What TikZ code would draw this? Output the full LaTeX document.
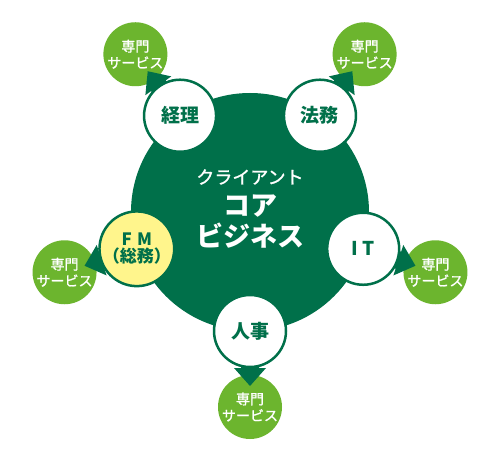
\documentclass[tikz,border=0pt]{standalone}
\usepackage{fontspec}
\newfontfamily\jp{Noto Sans CJK JP}
\newfontfamily\jpm{Noto Sans CJK JP}[UprightFeatures={FakeBold=1.2}]
\usetikzlibrary{calc}
\definecolor{dg}{RGB}{0,112,74}
\definecolor{lg}{RGB}{108,181,46}
\definecolor{yl}{RGB}{255,245,140}
\newcommand\blockarr[2]{%
  \coordinate (#1hb) at ($(#1)!37pt!(#2)$);
  \coordinate (#1tip) at ($(#1)!55pt!(#2)$);
  \fill[dg] ($(#1)!9pt!90:(#2)$) -- ($(#1hb)!9pt!90:(#2)$) -- ($(#1hb)!16pt!90:(#2)$)
    -- (#1tip) -- ($(#1hb)!16pt!-90:(#2)$) -- ($(#1hb)!9pt!-90:(#2)$)
    -- ($(#1)!9pt!-90:(#2)$) -- cycle;}
\begin{document}
\begin{tikzpicture}[x=1pt,y=1pt,
  sat/.style={circle,fill=lg,minimum size=64pt,inner sep=0pt,text=white,
    font=\jpm\fontsize{14}{16.5}\selectfont,align=center},
  func/.style={circle,draw=dg,line width=2.5pt,fill=white,minimum size=72pt,inner sep=0pt,
    text=dg,font=\jp\bfseries\fontsize{19}{22}\selectfont,align=center},
  coretext/.style={text=white,inner sep=0pt}]
\useasboundingbox (0,0) rectangle (500,450);
\fill[white] (0,0) rectangle (500,450);
\begin{scope}[shift={(250,238)}]
  \node[circle,fill=dg,minimum size=238pt,inner sep=0pt] (core) at (0,0) {};
  % satellites
  \node[sat] (s1) at (126:195) {専門\\サービス};
  \node[sat] (s2) at (54:195) {専門\\サービス};
  \node[sat] (s3) at (-18:195) {専門\\サービス};
  \node[sat] (s4) at (-90:195) {専門\\サービス};
  \node[sat] (s5) at (198:195) {専門\\サービス};
  % function circle centres
  \coordinate (p1) at (126:119);
  \coordinate (p2) at (54:119);
  \coordinate (p3) at (-18:119);
  \coordinate (p4) at (-90:119);
  \coordinate (p5) at (198:119);
  % arrows
  \blockarr{p1}{s1}
  \blockarr{p2}{s2}
  \blockarr{p3}{s3}
  \blockarr{p4}{s4}
  \blockarr{p5}{s5}
  % function circles
  \node[func] (keiri) at (p1) {経理};
  \node[func] (homu) at (p2) {法務};
  \node[func] (it) at (p3) {I\hspace{5pt}T};
  \node[func] (jinji) at (p4) {人事};
  \node[func,fill=yl,font=\jp\bfseries\fontsize{17}{17}\selectfont] (fm) at (p5) {F\hspace{5pt}M\\（総務）};
  % core text
  \node[coretext,font=\jpm\fontsize{18}{20}\selectfont] (ct1) at (0,35) {クライアント};
  \node[coretext,font=\jp\bfseries\fontsize{27}{30}\selectfont] (ct2) at (0,6) {コア};
  \node[coretext,font=\jp\bfseries\fontsize{27}{30}\selectfont] (ct3) at (0,-24) {ビジネス};
\end{scope}
\end{tikzpicture}
\end{document}
